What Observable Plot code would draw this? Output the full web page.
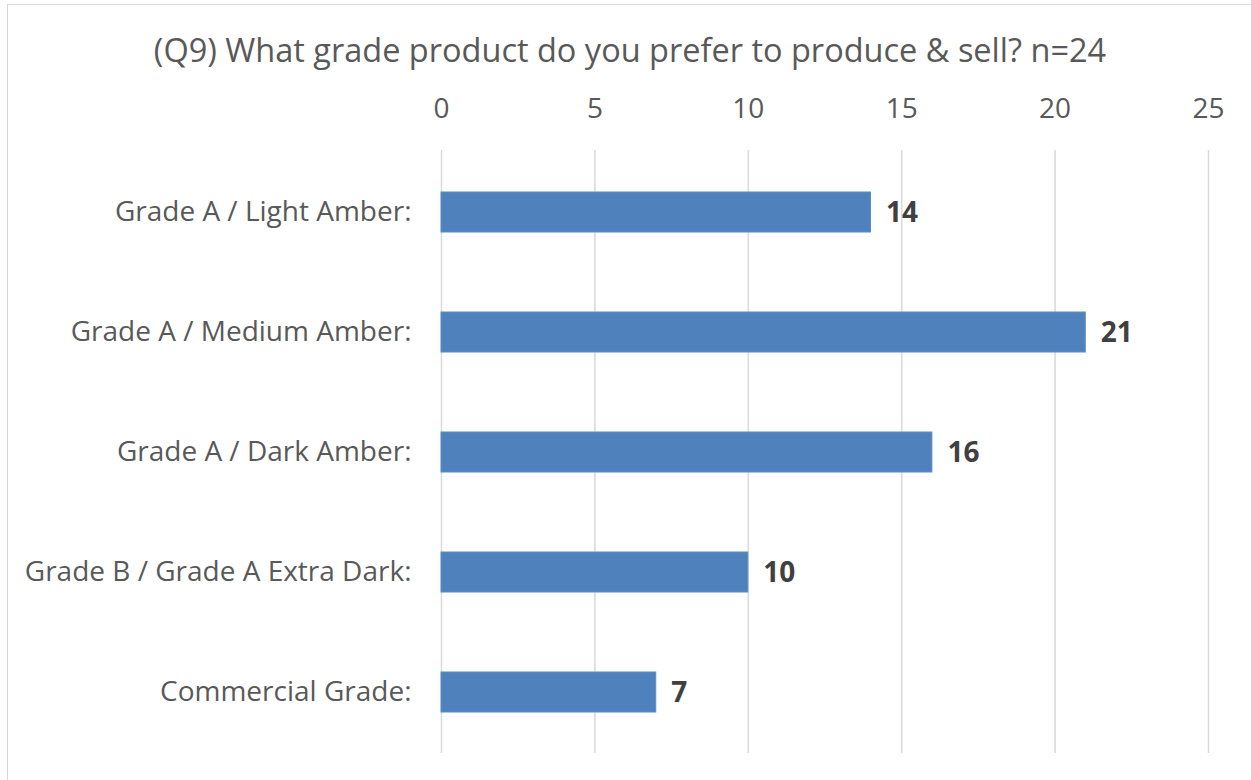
<!DOCTYPE html>
<html>
<head>
<meta charset="utf-8">
<script src="https://cdn.jsdelivr.net/npm/d3@7"></script>
<script src="https://cdn.jsdelivr.net/npm/@observablehq/plot@0.6"></script>
<style>
  html, body { margin: 0; padding: 0; background: #fff; overflow: hidden; }
  #wrap { position: relative; width: 1251px; height: 780px; overflow: hidden; }
  #frame { position: absolute; left: 7px; top: 4px; width: 1300px; height: 820px; border: 1.5px solid #d9d9d9; box-sizing: border-box; }
  #title { position: absolute; left: 0; top: 28px; width: 1260px; text-align: center; font-family: "Open Sans", sans-serif; font-size: 32.5px; color: #595959; line-height: 44px; }
  #chart { position: absolute; left: 0; top: 0; }
</style>
</head>
<body>
<div id="wrap">
  <div id="frame"></div>
  <div id="title">(Q9) What grade product do you prefer to produce &amp; sell? n=24</div>
  <div id="chart"></div>
</div>
<script>
const categories = [
  "Grade A / Light Amber:",
  "Grade A / Medium Amber:",
  "Grade A / Dark Amber:",
  "Grade B / Grade A Extra Dark:",
  "Commercial Grade:"
];
const counts = [14, 21, 16, 10, 7];
const xTicks = [0, 5, 10, 15, 20, 25];

const data = categories.map((c, i) => ({category: c, count: counts[i]}));

const chart = Plot.plot({
  width: 1251,
  height: 780,
  marginLeft: 441,
  marginRight: 43,
  marginTop: 150,
  marginBottom: 27,
  style: {fontFamily: "'Open Sans', sans-serif", fontSize: "28px", color: "#595959", background: "transparent", overflow: "visible"},
  x: {domain: [0, 25], ticks: xTicks, axis: "top", tickSize: 0, tickPadding: 33, label: null},
  y: {domain: categories, paddingInner: 0.668, paddingOuter: 0.334, tickSize: 0, tickPadding: 30, label: null},
  marks: [
    Plot.ruleX(xTicks, {stroke: "#d9d9d9", strokeWidth: 1.5, strokeOpacity: 1}),
    Plot.barX(data, {x: "count", y: "category", fill: "#4f81bd", stroke: "#5b8cc6", strokeWidth: 1}),
    Plot.text(data, {x: "count", y: "category", text: d => String(d.count), textAnchor: "start", dx: 15, dy: 1, fontWeight: "bold", fontSize: 28, fill: "#404040"})
  ]
});
document.getElementById("chart").appendChild(chart);
</script>
</body>
</html>
